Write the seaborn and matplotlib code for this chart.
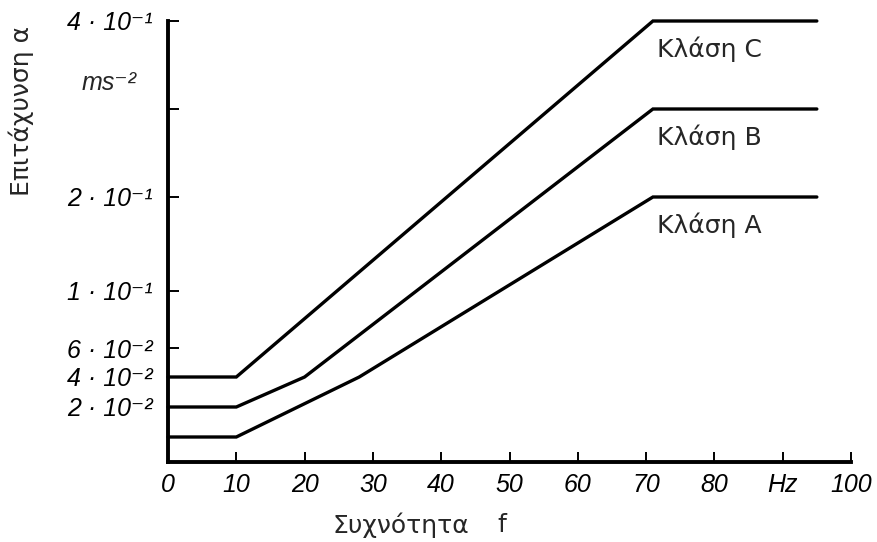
import numpy as np
import pandas as pd
import matplotlib
matplotlib.use("Agg")
import matplotlib.pyplot as plt
import seaborn as sns

# curves (frequency in Hz, acceleration in m/s^2)
f_c = [0, 10, 71, 95]
a_c = [0.04, 0.04, 0.4, 0.4]
f_b = [0, 10, 20, 71, 95]
a_b = [0.02, 0.02, 0.04, 0.3, 0.3]
f_a = [0, 10, 28, 71, 95]
a_a = [0.01, 0.01, 0.04, 0.2, 0.2]
classes = ["Κλάση C", "Κλάση B", "Κλάση A"]

x_ticks = [0, 10, 20, 30, 40, 50, 60, 70, 80, 90, 100]
x_labels = ["0", "10", "20", "30", "40", "50", "60", "70", "80", "Hz", "100"]
y_ticks = [0.02, 0.04, 0.06, 0.1, 0.2, 0.3, 0.4]
y_labels = ["2 · 10⁻²", "4 · 10⁻²", "6 · 10⁻²", "1 · 10⁻¹", "2 · 10⁻¹", "", "4 · 10⁻¹"]

# the original axis is neither linear nor log: anchor values -> axis height (px)
scale_vals = [0, 0.01, 0.02, 0.04, 0.06, 0.1, 0.2, 0.3, 0.4]
scale_pos = [0, 25, 55, 85, 114, 171, 265, 353, 441]

df = pd.concat([
    pd.DataFrame({"f": f_c, "a": a_c, "cls": classes[0]}),
    pd.DataFrame({"f": f_b, "a": a_b, "cls": classes[1]}),
    pd.DataFrame({"f": f_a, "a": a_a, "cls": classes[2]}),
])

sns.set_style("white")
plt.rcParams["font.family"] = ["Liberation Sans", "DejaVu Sans"]
greek = ["DejaVu Sans"]

fig = plt.figure(figsize=(8.78, 5.42), dpi=100)
W, H = 878, 542
ax = fig.add_axes([168 / W, (H - 462) / H, (851 - 168) / W, (462 - 21) / H])


def fwd(v):
    return np.interp(v, scale_vals, scale_pos)


def inv(p):
    return np.interp(p, scale_pos, scale_vals)


ax.set_yscale("function", functions=(fwd, inv))

sns.lineplot(data=df, x="f", y="a", hue="cls", palette=["black"] * 3,
             estimator=None, sort=False, legend=False, linewidth=2.4, ax=ax)
for ln in ax.lines:
    ln.set_clip_on(False)
    ln.set_solid_joinstyle("miter")

ax.set_xlim(0, 100)
ax.set_ylim(0, 0.4)
ax.set_xticks(x_ticks)
ax.set_xticklabels(x_labels, fontstyle="italic", fontsize=18)
ax.set_yticks(y_ticks)
ax.set_yticklabels(y_labels, fontstyle="italic", fontsize=18)
ax.yaxis.set_minor_locator(matplotlib.ticker.NullLocator())
ax.tick_params(axis="x", bottom=True, direction="in", length=7, width=1.4, pad=8, colors="black")
ax.tick_params(axis="y", left=True, direction="in", length=8, width=1.4, pad=11, colors="black")
for i in (0, 1):
    ax.yaxis.get_major_ticks()[i].tick1line.set_visible(False)
ax.xaxis.get_major_ticks()[0].tick1line.set_visible(False)

for side in ("top", "right"):
    ax.spines[side].set_visible(False)
for side in ("left", "bottom"):
    ax.spines[side].set_linewidth(2.8)
    ax.spines[side].set_color("black")
ax.set_xlabel("")
ax.set_ylabel("")

# class labels just under the start of each plateau
for name, ff, aa in [(classes[0], f_c, a_c), (classes[1], f_b, a_b), (classes[2], f_a, a_a)]:
    ax.annotate(name, xy=(ff[-2], aa[-2]), xytext=(3, -20), textcoords="offset points",
                ha="left", va="center", fontsize=18, family=greek)

fig.text(82 / W, 1 - 83 / H, "ms⁻²", fontstyle="italic", fontsize=18, ha="left", va="center")
fig.text(21 / W, 1 - 111 / H, "Επιτάχυνση α", rotation=90, fontsize=18,
         ha="center", va="center", family=greek)
fig.text(333 / W, 1 - 525 / H, "Συχνότητα", fontsize=18, ha="left", va="center", family=greek)
fig.text(497 / W, 1 - 525 / H, "f", fontsize=18, ha="left", va="center", family=greek)

fig.savefig("out.png", dpi=100)
